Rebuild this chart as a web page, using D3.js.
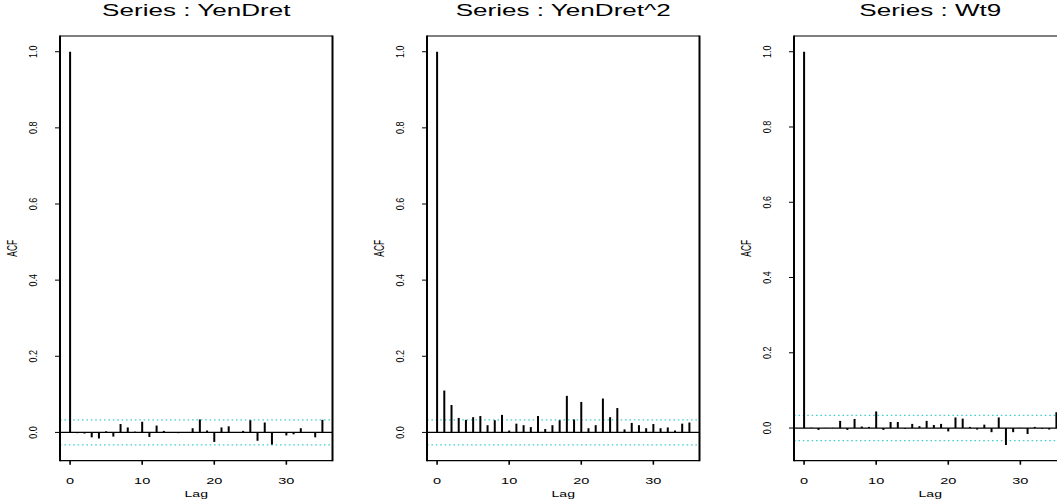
<!DOCTYPE html>
<html>
<head>
<meta charset="utf-8">
<script src="https://cdn.jsdelivr.net/npm/d3@7"></script>
<style>
  html, body { margin: 0; padding: 0; background: #fff; overflow: hidden; }
  svg { display: block; font-family: "Liberation Sans", Arial, Helvetica, sans-serif; }
</style>
</head>
<body>
<script>
var W = 1057, H = 501;

// series, lags 0..35
var titles = ["Series : YenDret", "Series : YenDret^2", "Series : Wt9"];
var lags = d3.range(0, 36);
var acfYenDret = [1.0, -0.002, -0.003, -0.013, -0.016, 0.003, -0.011, 0.022, 0.013, 0.002,
    0.028, -0.012, 0.018, 0.004, 0.0005, -0.002, 0.0005, 0.011, 0.034, 0.005,
    -0.025, 0.013, 0.016, 0.0005, 0.004, 0.032, -0.022, 0.026, -0.032, 0.0005,
    -0.008, -0.005, 0.011, 0.0005, -0.013, 0.033];
var acfYenDret2 = [1.0, 0.110, 0.072, 0.038, 0.033, 0.040, 0.043, 0.019, 0.032, 0.046,
    0.005, 0.023, 0.019, 0.014, 0.043, 0.009, 0.019, 0.032, 0.096, 0.034,
    0.080, 0.011, 0.019, 0.089, 0.040, 0.064, 0.008, 0.025, 0.019, 0.011,
    0.022, 0.011, 0.013, 0.005, 0.023, 0.026];
var acfWt9 = [1.0, 0.001, -0.005, 0.0005, 0.0005, 0.019, -0.005, 0.024, 0.004, 0.003,
    0.044, -0.005, 0.016, 0.016, -0.002, 0.011, 0.005, 0.019, 0.008, 0.011,
    -0.009, 0.028, 0.025, 0.003, -0.004, 0.009, -0.011, 0.028, -0.045, -0.011,
    0.0005, -0.016, 0.003, -0.002, -0.004, 0.042];
var confLimits = [0.033, 0.033, 0.0335];
var yTicks = [0, 0.2, 0.4, 0.6, 0.8, 1.0];
var xTicks = [0, 10, 20, 30];

var PANEL_W = 367;
var BOX_L = 60, BOX_W = 272.5, BOX_T = 36, BOX_B = 460.7;
var XS = 1.65;   // the picture is stretched sideways, text too

var svg = d3.select('body').append('svg')
    .attr('width', W)
    .attr('height', H);

function hText(g, x, y, size, str) {
    return g.append('text')
        .attr('transform', 'translate(' + x + ',' + y + ') scale(' + XS + ',1)')
        .attr('text-anchor', 'middle')
        .attr('font-size', size)
        .attr('fill', '#000')
        .text(str);
}

function vText(g, x, y, size, sx, str) {
    return g.append('text')
        .attr('transform', 'translate(' + x + ',' + y + ') scale(' + sx + ',1) rotate(-90)')
        .attr('text-anchor', 'middle')
        .attr('font-size', size)
        .attr('fill', '#000')
        .text(str);
}

function panel(i, acf) {
    var g = svg.append('g')
        .attr('transform', 'translate(' + (i * PANEL_W) + ',0)');
    var clim = confLimits[i];

    // R style ranges: data range padded by 4%
    var lo = Math.min(d3.min(acf), -clim), hi = Math.max(1, clim);
    var py = 0.04 * (hi - lo);
    var px = 0.04 * (d3.max(lags) - d3.min(lags));
    var x = d3.scaleLinear()
        .domain([d3.min(lags) - px, d3.max(lags) + px])
        .range([BOX_L, BOX_L + BOX_W]);
    var y = d3.scaleLinear()
        .domain([lo - py, hi + py])
        .range([BOX_B, BOX_T]);

    // confidence band
    g.selectAll('.clim')
        .data([clim, -clim]).enter()
        .append('line')
        .attr('class', 'clim')
        .attr('x1', BOX_L).attr('x2', BOX_L + BOX_W)
        .attr('y1', function(d) { return y(d); })
        .attr('y2', function(d) { return y(d); })
        .attr('stroke', '#46cfcf')
        .attr('stroke-width', 1.2)
        .attr('stroke-dasharray', '1.6,2.8');

    // zero line
    g.append('line')
        .attr('x1', BOX_L).attr('x2', BOX_L + BOX_W)
        .attr('y1', y(0)).attr('y2', y(0))
        .attr('stroke', '#000')
        .attr('stroke-width', 1.3);

    // spikes
    g.selectAll('.spike')
        .data(acf).enter()
        .append('line')
        .attr('class', 'spike')
        .attr('x1', function(d, k) { return x(lags[k]); })
        .attr('x2', function(d, k) { return x(lags[k]); })
        .attr('y1', y(0))
        .attr('y2', function(d) { return y(d); })
        .attr('stroke', '#000')
        .attr('stroke-width', 2);

    // box: sides look heavier than top/bottom
    g.append('line')
        .attr('x1', BOX_L).attr('x2', BOX_L + BOX_W)
        .attr('y1', BOX_T).attr('y2', BOX_T)
        .attr('stroke', '#000').attr('stroke-width', 1.2);
    g.append('line')
        .attr('x1', BOX_L).attr('x2', BOX_L + BOX_W)
        .attr('y1', BOX_B).attr('y2', BOX_B)
        .attr('stroke', '#000').attr('stroke-width', 1.2);
    g.selectAll('.side')
        .data([BOX_L, BOX_L + BOX_W]).enter()
        .append('line')
        .attr('class', 'side')
        .attr('x1', function(d) { return d; })
        .attr('x2', function(d) { return d; })
        .attr('y1', BOX_T - 0.6).attr('y2', BOX_B + 0.6)
        .attr('stroke', '#000').attr('stroke-width', 2);

    // y axis ticks + labels
    g.selectAll('.ytick')
        .data(yTicks).enter()
        .append('line')
        .attr('class', 'ytick')
        .attr('x1', BOX_L - 5).attr('x2', BOX_L)
        .attr('y1', function(d) { return y(d); })
        .attr('y2', function(d) { return y(d); })
        .attr('stroke', '#000').attr('stroke-width', 1);
    yTicks.forEach(function(t) {
        vText(g, BOX_L - 23, y(t), 9, 1.3, d3.format('.1f')(t));
    });

    // x axis ticks + labels
    g.selectAll('.xtick')
        .data(xTicks).enter()
        .append('line')
        .attr('class', 'xtick')
        .attr('x1', function(d) { return x(d); })
        .attr('x2', function(d) { return x(d); })
        .attr('y1', BOX_B).attr('y2', BOX_B + 4)
        .attr('stroke', '#000').attr('stroke-width', 1.6);
    xTicks.forEach(function(t) {
        hText(g, x(t), 483.5, 8.8, String(t));
    });

    hText(g, BOX_L + BOX_W / 2, 497, 8.5, 'Lag');
    vText(g, 17, (BOX_T + BOX_B) / 2, 8.3, 1.7, 'ACF');
    hText(g, BOX_L + BOX_W / 2, 15.5, 15.8, titles[i]);
}

[acfYenDret, acfYenDret2, acfWt9].forEach(function(acf, i) {
    panel(i, acf);
});
</script>
</body>
</html>
